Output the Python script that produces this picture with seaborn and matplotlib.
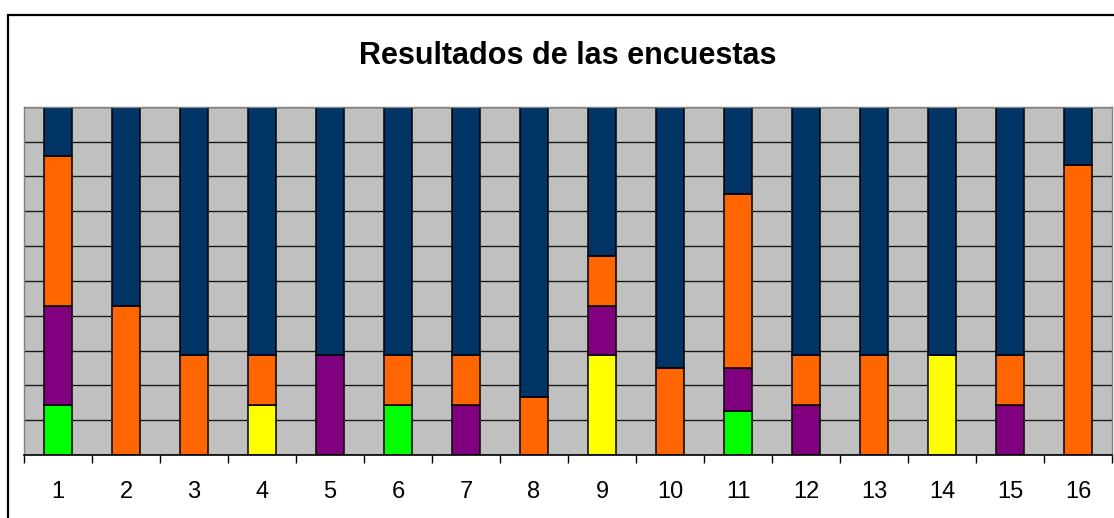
import numpy as np
import pandas as pd
import seaborn as sns
import matplotlib.pyplot as plt
from matplotlib.patches import Rectangle
from matplotlib.ticker import MultipleLocator

# Encuestas 1..16, respuestas por categoria (apiladas al 100%)
encuestas = list(range(1, 17))
categorias = ["A", "B", "C", "D", "E"]  # de abajo hacia arriba
verde = [1, 0, 0, 0, 0, 1, 0, 0, 0, 0, 1, 0, 0, 0, 0, 0]
amarillo = [0, 0, 0, 1, 0, 0, 0, 0, 2, 0, 0, 0, 0, 2, 0, 0]
morado = [2, 0, 0, 0, 2, 0, 1, 0, 1, 0, 1, 1, 0, 0, 1, 0]
naranja = [3, 3, 2, 1, 0, 1, 1, 1, 1, 1, 4, 1, 2, 0, 1, 5]
azul = [1, 4, 5, 5, 5, 5, 5, 5, 3, 3, 2, 5, 5, 5, 5, 1]
colores = ["#00FF00", "#FFFF00", "#800080", "#FF6600", "#003366"]

series = [verde, amarillo, morado, naranja, azul]
rows = []
for cat, vals in zip(categorias, series):
    for enc, v in zip(encuestas, vals):
        if v > 0:
            rows.append({"encuesta": enc, "categoria": cat, "n": v})
df = pd.DataFrame(rows)

sns.set_theme(style="white")
plt.rcParams["font.family"] = ["Liberation Sans", "DejaVu Sans"]

W, H = 1114, 518
fig = plt.figure(figsize=(W / 100, H / 100), dpi=100)
ax = fig.add_axes([24 / W, 1 - 455 / H, (1112 - 24) / W, (455 - 106.7) / H])
ax.set_facecolor("#C0C0C0")

# seaborn stacks the first hue level on top, so reverse the order
sns.histplot(
    data=df, x="encuesta", hue="categoria", weights="n",
    multiple="fill", discrete=True, shrink=0.4,
    hue_order=categorias[::-1], palette=colores[::-1],
    edgecolor="black", linewidth=1.1, alpha=1, legend=False, ax=ax,
)

ax.set_xlim(0.5, 16.5)
ax.set_ylim(0, 1)
ax.set_axisbelow(True)
ax.yaxis.set_major_locator(MultipleLocator(0.1))
ax.grid(axis="y", color="#1a1a1a", linewidth=1.0)
ax.grid(axis="x", visible=False)
ax.set_yticklabels([])
ax.tick_params(axis="y", length=0)

ax.set_xticks(encuestas)
ax.set_xticklabels([str(e) for e in encuestas], fontsize=17)
ax.xaxis.set_minor_locator(MultipleLocator(1, offset=0.5))
ax.tick_params(axis="x", which="major", length=0, pad=19, colors="black")
ax.tick_params(axis="x", which="minor", bottom=True, length=6, width=1, color="black")
ax.set_xlabel("")
ax.set_ylabel("")

for s in ["top", "left", "right"]:
    ax.spines[s].set_color("#808080")
    ax.spines[s].set_linewidth(1.0)
ax.spines["bottom"].set_color("black")
ax.spines["bottom"].set_linewidth(1.2)

fig.text(568 / W, 1 - 64 / H, "Resultados de las encuestas", ha="center",
         va="baseline", fontsize=22, fontweight="bold", color="black")

fig.patches.append(Rectangle((8 / W, -0.1), 1.2, (518 - 15) / H + 0.1,
                             transform=fig.transFigure, fill=False,
                             edgecolor="black", linewidth=1.6))

fig.savefig("out.png", dpi=100)
